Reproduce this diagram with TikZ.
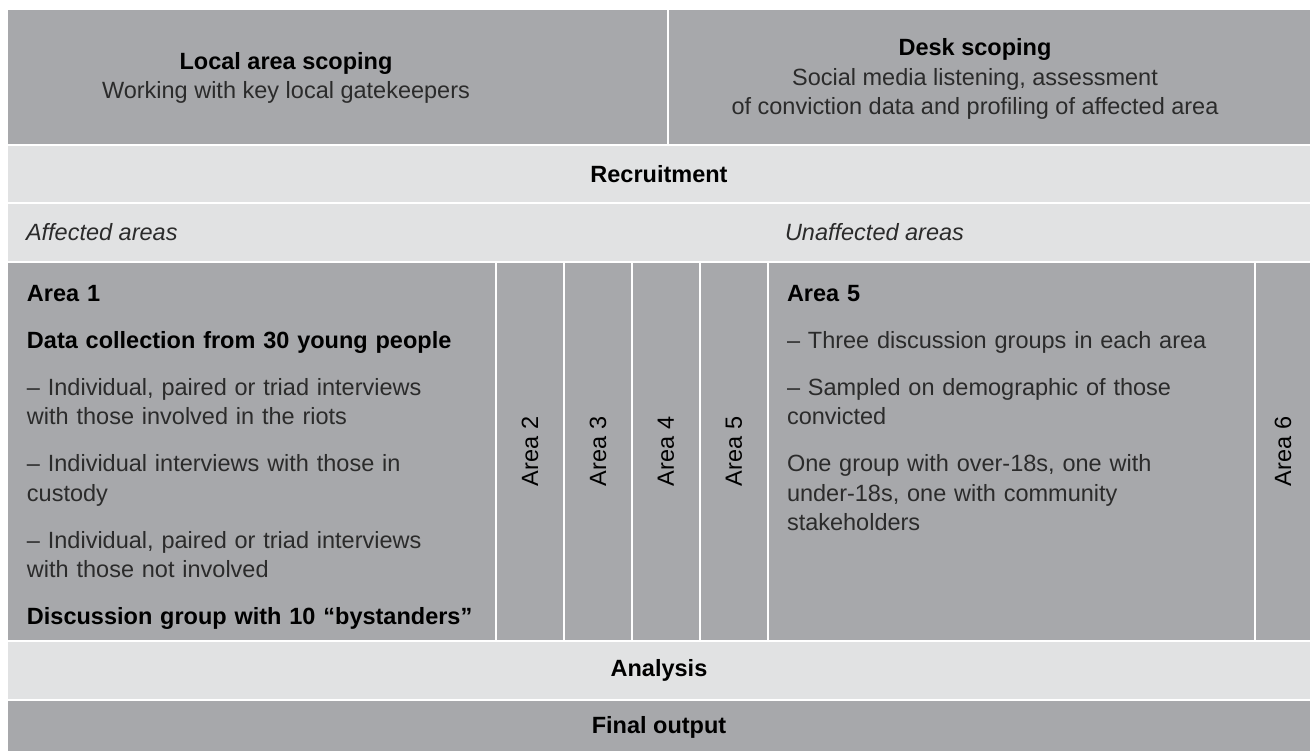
\documentclass[tikz,border=0pt]{standalone}
\usepackage{fontspec}
\setmainfont{Liberation Sans}
\usetikzlibrary{positioning}
\definecolor{cellgrey}{HTML}{A7A8AB}
\definecolor{bandgrey}{HTML}{E1E2E3}
\definecolor{bodytext}{HTML}{2B2B2B}

\begin{document}
\begin{tikzpicture}[
        x=1pt, y=-1pt,
        every node/.style={inner sep=0pt, outer sep=0pt, text=bodytext,
            font=\fontsize{23.5}{29.5}\selectfont},
        cell/.style={draw=white, line width=2pt, anchor=north west},
        dark/.style={cell, fill=cellgrey},
        light/.style={cell, fill=bandgrey},
        head/.style={font=\fontsize{23.5}{29.5}\selectfont\bfseries, text=black},
        side/.style={rotate=90, text=black},
        block/.style={anchor=north west, align=left}
    ]
    \useasboundingbox[fill=white] (0,0) rectangle (1310,751);
    % Define cells
    \node[dark, minimum width=661, minimum height=136] (scopeL) at (7,9) {};
    \node[dark, minimum width=643, minimum height=136] (scopeR) at (668,9) {};
    \node[light, minimum width=1304, minimum height=58] (recruit) at (7,145) {};
    \node[light, minimum width=1304, minimum height=59] (split) at (7,203) {};
    \node[dark, minimum width=489, minimum height=379] (area1) at (7,262) {};
    \node[dark, minimum width=68, minimum height=379] (col2) at (496,262) {};
    \node[dark, minimum width=68, minimum height=379] (col3) at (564,262) {};
    \node[dark, minimum width=68, minimum height=379] (col4) at (632,262) {};
    \node[dark, minimum width=68, minimum height=379] (col5) at (700,262) {};
    \node[dark, minimum width=487, minimum height=379] (area5) at (768,262) {};
    \node[dark, minimum width=56, minimum height=379] (col6) at (1255,262) {};
    \node[light, minimum width=1304, minimum height=59] (analysis) at (7,641) {};
    \node[dark, minimum width=1304, minimum height=52] (final) at (7,700) {};
    % Texts
    \node[align=center] (scopeLtxt) at (286,78)
        {{\bfseries\color{black}Local area scoping}\\Working with key local gatekeepers};
    \node[align=center] (scopeRtxt) at (975,79)
        {{\bfseries\color{black}Desk scoping}\\Social media listening, assessment\\
         of conviction data and profiling of affected area};
    \node[head] (recruittxt) at (recruit.center) {Recruitment};
    \node[anchor=west, font=\fontsize{23.5}{29.5}\selectfont\itshape] (affected)
        at (26,232) {Affected areas};
    \node[anchor=west, font=\fontsize{23.5}{29.5}\selectfont\itshape] (unaffected)
        at (785,232) {Unaffected areas};
    \node[block, text width=465] (area1txt) at (27,285) {%
        \setlength{\parskip}{17.5pt}%
        {\bfseries\color{black}Area 1}\par
        {\bfseries\color{black}Data collection from 30 young people}\par
        \hangindent=13pt – Individual, paired or triad interviews\\
        with those involved in the riots\par
        \hangindent=13pt – Individual interviews with those in\\
        custody\par
        \hangindent=13pt – Individual, paired or triad interviews\\
        with those not involved\par
        {\bfseries\color{black}Discussion group with 10 “bystanders”}};
    \node[side] (lab2) at (col2.center) {Area 2};
    \node[side] (lab3) at (col3.center) {Area 3};
    \node[side] (lab4) at (col4.center) {Area 4};
    \node[side] (lab5) at (col5.center) {Area 5};
    \node[block, text width=470] (area5txt) at (787,285) {%
        \setlength{\parskip}{17.5pt}%
        {\bfseries\color{black}Area 5}\par
        \hangindent=13pt – Three discussion groups in each area\par
        \hangindent=13pt – Sampled on demographic of those\\
        convicted\par
        One group with over-18s, one with\\
        under-18s, one with community\\
        stakeholders};
    \node[side] (lab6) at (col6.center) {Area 6};
    \node[head] (analysistxt) at (analysis.center) {Analysis};
    \node[head] (finaltxt) at ([yshift=-1]final.center) {Final output};
\end{tikzpicture}
\end{document}
